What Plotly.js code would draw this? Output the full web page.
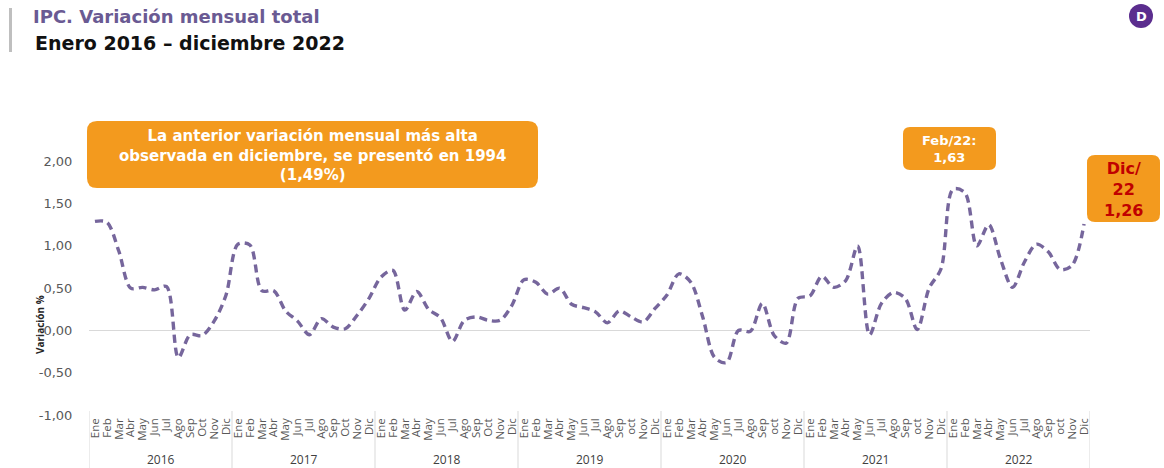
<!DOCTYPE html>
<html>
<head>
<meta charset="utf-8">
<script src="https://cdn.plot.ly/plotly-3.0.1.min.js"></script>
<style>
html,body{margin:0;padding:0;background:#fff;}
#chart{width:1164px;height:468px;}
</style>
</head>
<body>
<div id="chart"></div>
<script>
// ---- data ----
const years = ['2016','2017','2018','2019','2020','2021','2022'];
const monthsUpper = ['Ene','Feb','Mar','Abr','May','Jun','Jul','Ago','Sep','Oct','Nov','Dic'];
const monthsLower = ['Ene','Feb','Mar','Abr','May','Jun','Jul','Ago','Sep','oct','Nov','Dic'];
const v2016 = [1.29, 1.28, 0.94, 0.50, 0.51, 0.48, 0.52, -0.32, -0.05, -0.06, 0.11, 0.42];
const v2017 = [1.02, 1.01, 0.47, 0.47, 0.23, 0.11, -0.05, 0.14, 0.04, 0.02, 0.18, 0.38];
const v2018 = [0.63, 0.71, 0.24, 0.46, 0.25, 0.15, -0.13, 0.12, 0.16, 0.12, 0.12, 0.30];
const v2019 = [0.60, 0.57, 0.43, 0.50, 0.31, 0.27, 0.22, 0.09, 0.23, 0.16, 0.10, 0.26];
const v2020 = [0.42, 0.67, 0.57, 0.16, -0.32, -0.38, 0.00, -0.01, 0.32, -0.06, -0.15, 0.38];
const v2021 = [0.41, 0.64, 0.51, 0.59, 1.00, -0.05, 0.32, 0.45, 0.38, 0.01, 0.50, 0.73];
const v2022 = [1.67, 1.63, 1.00, 1.25, 0.84, 0.51, 0.81, 1.02, 0.93, 0.72, 0.77, 1.26];
const yearValues = [v2016, v2017, v2018, v2019, v2020, v2021, v2022];
const yearMonthLabels = [monthsUpper, monthsUpper, monthsUpper, monthsLower, monthsLower, monthsLower, monthsLower];

const yTicks = [-1, -0.5, 0, 0.5, 1, 1.5, 2];
const yTickText = ['-1,00', '-0,50', '0,00', '0,50', '1,00', '1,50', '2,00'];

// ---- build series on a month index axis ----
const xIdx = [], tickText = [], yVals = [];
years.forEach((yr, i) => {
  yearMonthLabels[i].forEach((m, j) => {
    xIdx.push(xIdx.length);
    tickText.push(m);
    yVals.push(yearValues[i][j]);
  });
});

// plot area geometry in pixels (for layout helpers)
const W = 1164, H = 468;
const M = {l: 89, r: 74, t: 136, b: 53};
const PW = W - M.l - M.r, PH = H - M.t - M.b;
const px = x => (x - M.l) / PW;
const py = y => (H - M.b - y) / PH;

function roundRect(x0, y0, x1, y1, r) {
  const rx = r / PW, ry = r / PH;
  const a = px(x0), b = px(x1), top = py(y0), bot = py(y1);
  return `M ${a+rx},${top} L ${b-rx},${top} Q ${b},${top} ${b},${top-ry} ` +
         `L ${b},${bot+ry} Q ${b},${bot} ${b-rx},${bot} L ${a+rx},${bot} ` +
         `Q ${a},${bot} ${a},${bot+ry} L ${a},${top-ry} Q ${a},${top} ${a+rx},${top} Z`;
}

const orange = '#F39A1E';
const FONT = 'Open Sans, sans-serif';
const WIDE = 'DejaVu Sans, Verdana, sans-serif';

const trace = {
  x: xIdx,
  y: yVals,
  type: 'scatter',
  mode: 'lines',
  line: {color: '#76669C', width: 3.4, dash: '8px,5px', shape: 'spline', smoothing: 0.9},
  hoverinfo: 'y'
};

const shapes = [
  {type: 'rect', xref: 'paper', yref: 'paper', x0: px(9), x1: px(12), y0: py(8), y1: py(52),
   fillcolor: '#BFBFBF', line: {width: 0}, layer: 'below'},
  {type: 'circle', xref: 'paper', yref: 'paper', x0: px(1129), x1: px(1153), y0: py(4), y1: py(28),
   fillcolor: '#5B2D8E', line: {width: 0}, layer: 'below'},
  {type: 'path', xref: 'paper', yref: 'paper', path: roundRect(87, 121, 538, 188, 10),
   fillcolor: orange, line: {width: 0}, layer: 'below'},
  {type: 'path', xref: 'paper', yref: 'paper', path: roundRect(903, 127, 996, 170, 7),
   fillcolor: orange, line: {width: 0}, layer: 'below'},
  {type: 'path', xref: 'paper', yref: 'paper', path: roundRect(1087, 155, 1160, 222, 8),
   fillcolor: orange, line: {width: 0}, layer: 'below'}
];
// year dividers
for (let k = 0; k <= years.length; k++) {
  shapes.push({type: 'line', xref: 'x', yref: 'paper', x0: k * 12 - 0.5, x1: k * 12 - 0.5,
    y0: py(411), y1: py(470), line: {color: '#D9D9D9', width: 1}, layer: 'below'});
}

const annotations = [
  {xref: 'paper', yref: 'paper', x: px(1141), y: py(16.5), xanchor: 'center', yanchor: 'middle',
   text: '<b>D</b>', showarrow: false, font: {size: 13, color: '#ffffff', family: WIDE}},
  {xref: 'paper', yref: 'paper', x: px(312.5), y: py(155), xanchor: 'center', yanchor: 'middle',
   text: '<b>La anterior variación mensual más alta<br>observada en diciembre, se presentó en 1994<br>(1,49%)</b>',
   showarrow: false, align: 'center', font: {size: 15, color: '#ffffff', family: WIDE}},
  {xref: 'paper', yref: 'paper', x: px(949.5), y: py(148.5), xanchor: 'center', yanchor: 'middle',
   text: '<b>Feb/22:<br>1,63</b>',
   showarrow: false, align: 'center', font: {size: 13, color: '#ffffff', family: WIDE}},
  {xref: 'paper', yref: 'paper', x: px(1123.5), y: py(189), xanchor: 'center', yanchor: 'middle',
   text: '<b>Dic/<br>22<br>1,26</b>',
   showarrow: false, align: 'center', font: {size: 16, color: '#C00000', family: WIDE}},
  {xref: 'paper', yref: 'paper', x: px(40), y: py(325), xanchor: 'center', yanchor: 'middle',
   text: '<b>Variación %</b>', textangle: -90,
   showarrow: false, font: {size: 10, color: '#262626', family: FONT}},
  {xref: 'paper', yref: 'paper', x: px(33), y: py(43), xanchor: 'left', yanchor: 'middle',
   text: '<b>Enero 2016 – diciembre 2022</b>', showarrow: false,
   font: {size: 19, color: '#111111', family: WIDE}}
];
years.forEach((yr, i) => {
  annotations.push({xref: 'x', yref: 'paper', x: i * 12 + 5.5, y: py(459), xanchor: 'center', yanchor: 'middle',
    text: yr, showarrow: false, font: {size: 12, color: '#404040', family: FONT}});
});

const layout = {
  width: W, height: H,
  margin: M,
  paper_bgcolor: '#ffffff',
  plot_bgcolor: 'rgba(0,0,0,0)',
  showlegend: false,
  font: {family: FONT, color: '#595959'},
  title: {
    text: '<b>IPC. Variación mensual total</b>',
    font: {family: WIDE, size: 18, color: '#6A5A93'},
    x: 33 / W, xanchor: 'left', xref: 'container',
    y: 1 - 17 / H, yanchor: 'middle', yref: 'container'
  },
  xaxis: {
    range: [-0.5, xIdx.length - 0.5],
    tickmode: 'array',
    tickvals: xIdx,
    ticktext: tickText,
    tickangle: -90,
    tickfont: {size: 11.5, color: '#595959', family: FONT},
    showgrid: false,
    zeroline: false,
    showline: false,
    ticks: '',
    fixedrange: true
  },
  yaxis: {
    range: [-1, 2.3],
    tickmode: 'array',
    tickvals: yTicks,
    ticktext: yTickText,
    tickfont: {size: 13, color: '#595959', family: WIDE},
    ticks: 'outside', ticklen: 13, tickcolor: 'rgba(0,0,0,0)',
    showgrid: false,
    zeroline: true, zerolinecolor: '#D9D9D9', zerolinewidth: 1,
    showline: false,
    fixedrange: true
  },
  shapes: shapes,
  annotations: annotations
};

Plotly.newPlot('chart', [trace], layout, {displayModeBar: false, staticPlot: true});
</script>
</body>
</html>
